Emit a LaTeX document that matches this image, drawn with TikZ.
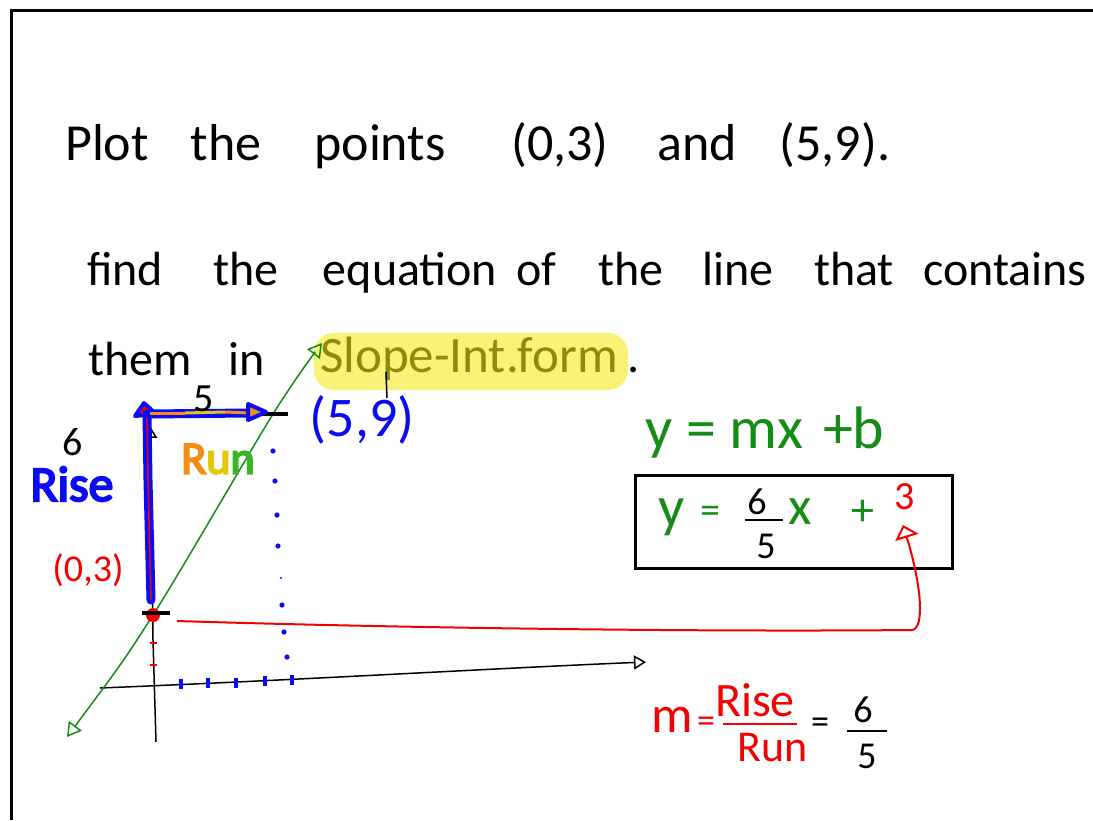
\documentclass[tikz,border=0pt]{standalone}
\usepackage{fontspec}
\setmainfont{Carlito}
\newfontfamily\boldhand[FakeBold=4]{Carlito}
\usetikzlibrary{arrows.meta}
\definecolor{hgreen}{RGB}{22,140,22}
\definecolor{hblue}{RGB}{10,10,245}
\definecolor{hred}{RGB}{245,0,0}
\definecolor{holive}{RGB}{140,140,10}
\definecolor{hyellow}{RGB}{248,242,120}
\definecolor{horange}{RGB}{245,140,20}
\definecolor{hyel}{RGB}{225,200,10}
\definecolor{hgrn}{RGB}{60,180,40}
\begin{document}
\begin{tikzpicture}[x=1pt,y=-1pt,
  wd/.style={anchor=base,inner sep=0pt,font=\fontsize{52}{60}\selectfont},
  wdb/.style={anchor=base,inner sep=0pt,font=\fontsize{48}{56}\selectfont},
  lbl/.style={inner sep=0pt,font=\fontsize{#1}{#1}\selectfont},
  lbl/.default=40,
  opentip/.style={-{Triangle[open,length=12pt,width=14pt,line width=1.5pt]}}]
\useasboundingbox (0,0) rectangle (1093,820);
% frame
\draw[line width=3pt] (11,820) -- (11,10) -- (1093,10);

% line 1
\node[wd] (w1) at (107,160) {Plot};
\node[wd] (w2) at (226,160) {the};
\node[wd] (w3) at (380,160) {points};
\node[wd] (w4) at (560,160) {(0,3)};
\node[wd] (w5) at (697,160) {and};
\node[wd] (w6) at (835,160) {(5,9).};

% line 2
\node[wdb] (v1) at (125,285) {find};
\node[wdb] (v2) at (246,285) {the};
\node[wdb] (v3) at (410,285) {equation};
\node[wdb] (v4) at (536,285) {of};
\node[wdb] (v5) at (631,285) {the};
\node[wdb] (v6) at (738,285) {line};
\node[wdb] (v7) at (854,285) {that};
\node[wdb] (v8) at (1005,285) {contains};

% line 3
\fill[hyellow,rounded corners=20pt] (314,333) rectangle (628,390);
\node[wdb] (u1) at (140,375) {them};
\node[wdb] (u2) at (247,375) {in};
\node[anchor=base,inner sep=0pt,font=\fontsize{51}{56}\selectfont,text=holive] (u3) at (469,372) {Slope-Int.form};
\node[wdb] (u4) at (634,372) {.};
\draw[line width=1.5pt] (386,372) -- (387,398);

% key points
\coordinate (P03) at (153,615);
\coordinate (P59) at (273,414);
\coordinate (G1) at (67,737);
\coordinate (G2) at (322,343);

% axes
\draw[line width=1.5pt,opentip] (156,742) -- (153,640) -- (150,426);
\draw[line width=1.5pt,opentip] (100,688) .. controls (300,680) and (500,668) .. (646,662);

% green line
\draw[hgreen,line width=1.5pt,{Triangle[open,length=14pt,width=16pt,line width=1.5pt]}-{Triangle[open,length=14pt,width=16pt,line width=1.5pt]}]
  plot[smooth] coordinates {(G1) (P03) (P59) (G2)};

% blue dots and ticks
\foreach \p in {(273,451),(275,481),(277,515),(278,546),(282,605),(284,632),(287,657)}
  \fill[hblue] \p circle (2.6pt);
\fill[hblue] (281,578) circle (1.2pt);
\foreach \x/\y in {181/684,208/683,236/683,265/681,292/680}
  \draw[hblue,line width=3.5pt] (\x,\y-5) -- (\x,\y+5);

% red ticks on y-axis
\draw[hred,line width=1.2pt] (150,643) -- (157,643);
\draw[hred,line width=1.2pt] (150,665) -- (157,665);

% points
\fill[hred] (P03) circle (7pt);
\draw[line width=3.5pt] (142,613) -- (170,613);
\draw[line width=3.5pt] (260,414) -- (288,414);

% Rise arrow
\coordinate (RT) at (147,414);
\draw[hblue,line width=9pt,line cap=round] (151,600) -- (148,480) -- (RT);
\draw[hred,line width=1.5pt] (151,600) -- (148,480) -- (RT);
\draw[hblue,line width=4pt,line join=round,fill=hred] (135,416) -- (144,403) -- (156,414) -- cycle;
% Run arrow
\draw[hblue,line width=9pt,line cap=round] (RT) -- (250,413);
\draw[horange,line width=3pt] (150,413) -- (185,413);
\draw[hyel,line width=3pt] (185,413) -- (225,412);
\draw[horange,line width=3pt] (225,412) -- (250,413);
\draw[hblue,line width=4pt,line join=round,fill=horange] (248,404) -- (266,412) -- (248,420) -- cycle;

% labels near graph
\node[lbl=40] (six) at (73,442) {6};
\node[lbl=40] (five) at (204,399) {5};
\node[inner sep=0pt,font=\boldhand\fontsize{50}{50}\selectfont,text=hblue] (rise) at (72,484) {Rise};
\node[inner sep=0pt,font=\boldhand\fontsize{46}{46}\selectfont] (run) at (218,459) {\textcolor{horange}{R}\textcolor{hyel}{u}\textcolor{hgrn}{n}};
\node[lbl=38,text=hred] (p03) at (88,570) {(0,3)};
\node[lbl=56,text=hblue] (p59) at (362,420) {(5,9)};

% y = mx + b
\node[anchor=base,inner sep=0pt,font=\fontsize{60}{60}\selectfont,text=hgreen] (gen) at (765,448) {y = mx\,\,+b};

% boxed equation
\node[draw,line width=3pt,minimum width=317pt,minimum height=93pt,inner sep=0pt] (box) at (793.5,521.5) {};
\node[lbl=58,text=hgreen] (ey) at (672,517) {y};
\node[lbl=40,text=hgreen] (eq) at (710,515) {=};
\node[lbl=38] (f6) at (757,502) {6};
\draw[line width=2pt] (745,520) -- (783,520);
\node[lbl=38] (f5) at (766,546) {5};
\node[lbl=54,text=hgreen] (ex) at (800,512) {x};
\node[lbl=46,text=hgreen] (ep) at (863,513) {+};
\node[lbl=40,text=hred] (e3) at (905,497) {3};

% red arrow to intercept
\coordinate (AS) at (177,621);
\coordinate (AE) at (903,525);
\draw[hred,line width=2pt,-{Triangle[open,length=13pt,width=24pt,line width=2pt]}]
  (AS) .. controls (400,628) and (700,632) .. (912,630)
  .. controls (926,628) and (920,580) .. (AE);

% slope formula
\node[lbl=52,text=hred] (m) at (672,720) {m};
\node[lbl=36,text=hred] (meq) at (706,725) {=};
\node[lbl=48,text=hred] (rs) at (755,700) {Rise};
\draw[hred,line width=2pt] (723,724) -- (797,724);
\node[lbl=44,text=hred] (rn) at (773,748) {Run};
\node[lbl=36] (meq2) at (820,726) {=};
\node[lbl=38] (s6) at (863,710) {6};
\draw[line width=2pt] (847,731) -- (887,731);
\node[lbl=38] (s5) at (867,756) {5};
\end{tikzpicture}
\end{document}
